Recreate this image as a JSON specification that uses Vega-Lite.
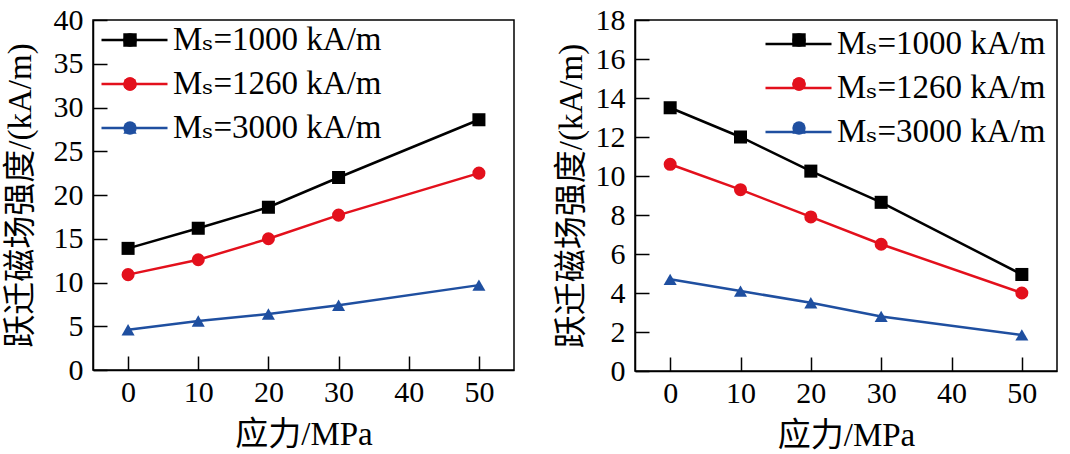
{
  "$schema": "https://vega.github.io/schema/vega-lite/v6.json",
  "background": "white",
  "padding": {"left": 3, "top": 4, "right": 0, "bottom": 0},
  "spacing": 39,
  "config": {
    "font": "Liberation Serif",
    "view": {"stroke": "black", "strokeWidth": 1.5},
    "axis": {
      "grid": false,
      "ticks": true,
      "zindex": 1,
      "domainColor": "black",
      "domainWidth": 1.5,
      "tickColor": "black",
      "tickWidth": 1.5,
      "tickSize": -14,
      "labelColor": "black",
      "labelFont": "Liberation Serif",
      "labelFontSize": 30,
      "titleFont": "Liberation Serif, Noto Sans CJK SC",
      "titleFontSize": 33,
      "titleFontWeight": "normal",
      "titleColor": "black",
      "labelPadding": 24
    },
    "axisX": {"labelPadding": 21, "titlePadding": 11},
    "legend": {
      "labelFont": "Liberation Serif, DejaVu Serif",
      "labelFontSize": 33,
      "labelColor": "black",
      "labelLimit": 0,
      "padding": 0,
      "clipHeight": 26,
      "rowPadding": 11,
      "labelOffset": 4
    }
  },
  "data": {
    "values": [
      {"panel": "L", "series": "Mₛ=1000 kA/m", "stress": 0, "value": 13.9},
      {"panel": "L", "series": "Mₛ=1000 kA/m", "stress": 10, "value": 16.2},
      {"panel": "L", "series": "Mₛ=1000 kA/m", "stress": 20, "value": 18.6},
      {"panel": "L", "series": "Mₛ=1000 kA/m", "stress": 30, "value": 22.0},
      {"panel": "L", "series": "Mₛ=1000 kA/m", "stress": 50, "value": 28.6},
      {"panel": "L", "series": "Mₛ=1260 kA/m", "stress": 0, "value": 10.9},
      {"panel": "L", "series": "Mₛ=1260 kA/m", "stress": 10, "value": 12.6},
      {"panel": "L", "series": "Mₛ=1260 kA/m", "stress": 20, "value": 15.0},
      {"panel": "L", "series": "Mₛ=1260 kA/m", "stress": 30, "value": 17.7},
      {"panel": "L", "series": "Mₛ=1260 kA/m", "stress": 50, "value": 22.5},
      {"panel": "L", "series": "Mₛ=3000 kA/m", "stress": 0, "value": 4.6},
      {"panel": "L", "series": "Mₛ=3000 kA/m", "stress": 10, "value": 5.6},
      {"panel": "L", "series": "Mₛ=3000 kA/m", "stress": 20, "value": 6.4},
      {"panel": "L", "series": "Mₛ=3000 kA/m", "stress": 30, "value": 7.4},
      {"panel": "L", "series": "Mₛ=3000 kA/m", "stress": 50, "value": 9.7},
      {"panel": "R", "series": "Mₛ=1000 kA/m", "stress": 0, "value": 13.5},
      {"panel": "R", "series": "Mₛ=1000 kA/m", "stress": 10, "value": 12.0},
      {"panel": "R", "series": "Mₛ=1000 kA/m", "stress": 20, "value": 10.25},
      {"panel": "R", "series": "Mₛ=1000 kA/m", "stress": 30, "value": 8.65},
      {"panel": "R", "series": "Mₛ=1000 kA/m", "stress": 50, "value": 4.95},
      {"panel": "R", "series": "Mₛ=1260 kA/m", "stress": 0, "value": 10.6},
      {"panel": "R", "series": "Mₛ=1260 kA/m", "stress": 10, "value": 9.3},
      {"panel": "R", "series": "Mₛ=1260 kA/m", "stress": 20, "value": 7.9},
      {"panel": "R", "series": "Mₛ=1260 kA/m", "stress": 30, "value": 6.5},
      {"panel": "R", "series": "Mₛ=1260 kA/m", "stress": 50, "value": 4.0},
      {"panel": "R", "series": "Mₛ=3000 kA/m", "stress": 0, "value": 4.7},
      {"panel": "R", "series": "Mₛ=3000 kA/m", "stress": 10, "value": 4.1},
      {"panel": "R", "series": "Mₛ=3000 kA/m", "stress": 20, "value": 3.5},
      {"panel": "R", "series": "Mₛ=3000 kA/m", "stress": 30, "value": 2.8},
      {"panel": "R", "series": "Mₛ=3000 kA/m", "stress": 50, "value": 1.85}
    ]
  },
  "resolve": {"legend": {"stroke": "independent", "fill": "independent", "shape": "independent"}},
  "hconcat": [
    {
      "width": 421,
      "height": 350,
      "transform": [{"filter": "datum.panel === 'L'"}],
      "encoding": {
        "x": {"field": "stress", "type": "quantitative", "scale": {"domain": [-5, 55], "nice": false, "zero": false},
              "axis": {"values": [0, 10, 20, 30, 40, 50], "title": "应力/MPa"}},
        "y": {"field": "value", "type": "quantitative", "scale": {"domain": [0, 40], "nice": false},
              "axis": {"values": [0, 5, 10, 15, 20, 25, 30, 35, 40], "title": "跃迁磁场强度/(kA/m)", "titlePadding": 16}}
      },
      "layer": [
        {
          "mark": {"type": "line", "strokeWidth": 2.5},
          "encoding": {
            "stroke": {"field": "series", "type": "nominal",
              "scale": {"domain": ["Mₛ=1000 kA/m", "Mₛ=1260 kA/m", "Mₛ=3000 kA/m"], "range": ["#000000", "#e3101c", "#1f4fa0"]},
              "legend": {"title": null, "orient": "top-left", "offset": 7, "symbolType": "stroke", "symbolSize": 4356, "symbolStrokeWidth": 2.5}}
          }
        },
        {
          "mark": {"type": "point", "filled": true, "size": 170, "opacity": 1},
          "encoding": {
            "fill": {"field": "series", "type": "nominal",
              "scale": {"domain": ["Mₛ=1000 kA/m", "Mₛ=1260 kA/m", "Mₛ=3000 kA/m"], "range": ["#000000", "#e3101c", "#1f4fa0"]},
              "legend": {"title": null, "orient": "none", "legendX": 20.5, "legendY": 7, "labelExpr": "' '", "symbolSize": 180}},
            "shape": {"field": "series", "type": "nominal",
              "scale": {"domain": ["Mₛ=1000 kA/m", "Mₛ=1260 kA/m", "Mₛ=3000 kA/m"], "range": ["square", "circle", "triangle-up"]},
              "legend": {"title": null, "orient": "none", "legendX": 20.5, "legendY": 7, "labelExpr": "' '", "symbolSize": 180}}
          }
        }
      ]
    },
    {
      "width": 422,
      "height": 351,
      "transform": [{"filter": "datum.panel === 'R'"}],
      "encoding": {
        "x": {"field": "stress", "type": "quantitative", "scale": {"domain": [-5, 55], "nice": false, "zero": false},
              "axis": {"values": [0, 10, 20, 30, 40, 50], "title": "应力/MPa"}},
        "y": {"field": "value", "type": "quantitative", "scale": {"domain": [0, 18], "nice": false},
              "axis": {"values": [0, 2, 4, 6, 8, 10, 12, 14, 16, 18], "title": "跃迁磁场强度/(kA/m)", "titlePadding": 7}}
      },
      "layer": [
        {
          "mark": {"type": "line", "strokeWidth": 2.5},
          "encoding": {
            "stroke": {"field": "series", "type": "nominal",
              "scale": {"domain": ["Mₛ=1000 kA/m", "Mₛ=1260 kA/m", "Mₛ=3000 kA/m"], "range": ["#000000", "#e3101c", "#1f4fa0"]},
              "legend": {"title": null, "orient": "top-right", "offset": 11, "symbolType": "stroke", "symbolSize": 4356, "symbolStrokeWidth": 2.5}}
          }
        },
        {
          "mark": {"type": "point", "filled": true, "size": 170, "opacity": 1},
          "encoding": {
            "fill": {"field": "series", "type": "nominal",
              "scale": {"domain": ["Mₛ=1000 kA/m", "Mₛ=1260 kA/m", "Mₛ=3000 kA/m"], "range": ["#000000", "#e3101c", "#1f4fa0"]},
              "legend": {"title": null, "orient": "none", "legendX": 147.5, "legendY": 7, "labelExpr": "' '", "symbolSize": 180}},
            "shape": {"field": "series", "type": "nominal",
              "scale": {"domain": ["Mₛ=1000 kA/m", "Mₛ=1260 kA/m", "Mₛ=3000 kA/m"], "range": ["square", "circle", "triangle-up"]},
              "legend": {"title": null, "orient": "none", "legendX": 147.5, "legendY": 7, "labelExpr": "' '", "symbolSize": 180}}
          }
        }
      ]
    }
  ]
}
